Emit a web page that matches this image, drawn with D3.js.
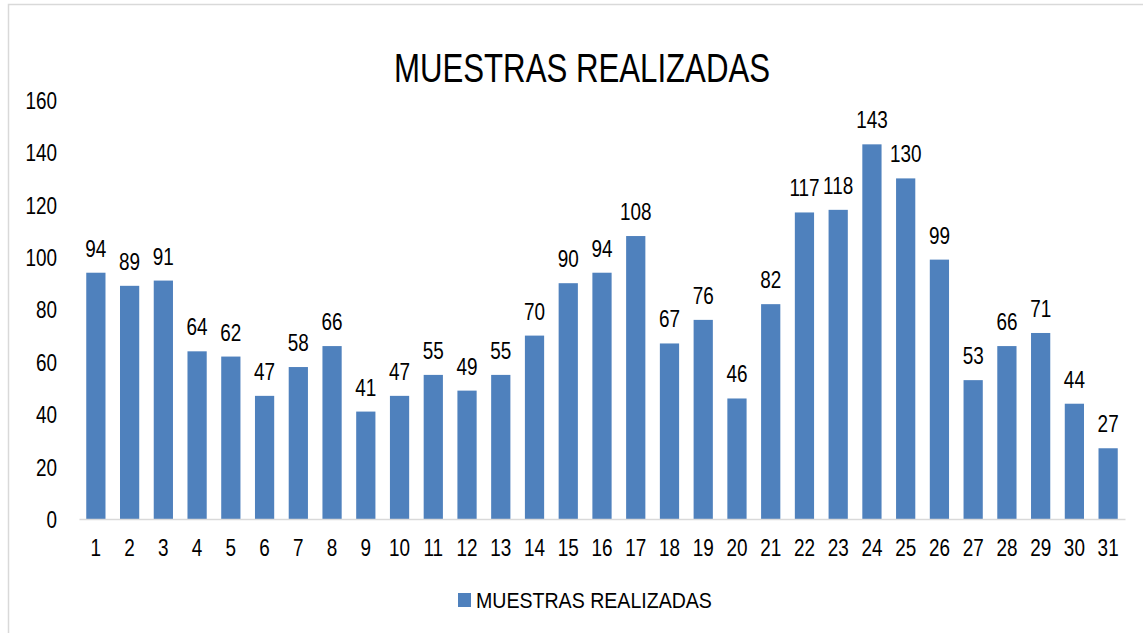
<!DOCTYPE html>
<html>
<head>
<meta charset="utf-8">
<script src="https://cdn.jsdelivr.net/npm/d3@7"></script>
<style>
  html, body { margin: 0; padding: 0; background: #fff; }
  svg { display: block; }
  text { font-family: "Liberation Sans Narrow", "Arial Narrow", "Liberation Sans", Arial, sans-serif; fill: #000; }
</style>
</head>
<body>
<svg id="chart" width="1143" height="633"></svg>
<script>
const title = "MUESTRAS REALIZADAS";
const seriesName = "MUESTRAS REALIZADAS";
const categories = ["1","2","3","4","5","6","7","8","9","10","11","12","13","14","15","16","17","18","19","20","21","22","23","24","25","26","27","28","29","30","31"];
const values = [94,89,91,64,62,47,58,66,41,47,55,49,55,70,90,94,108,67,76,46,82,117,118,143,130,99,53,66,71,44,27];
const yTicks = [0,20,40,60,80,100,120,140,160];

const svg = d3.select("#chart");
const color = "#4f81bd";
const numSize = "23.5px";
const numScale = 0.805;

// chart border
svg.append("rect").attr("x", 8.5).attr("y", 4.5).attr("width", 1150).attr("height", 640)
  .attr("fill", "none").attr("stroke", "#d9d9d9").attr("stroke-width", 1.5);

const x = d3.scaleBand().domain(categories).range([79, 1125]).paddingInner(0.43).paddingOuter(0.215);
const y = d3.scaleLinear().domain([0, 160]).range([519, 99.8]);

// title
svg.append("text").attr("transform", "translate(582,82) scale(0.78,1)").attr("text-anchor", "middle")
  .style("font-size", "40px").text(title);

// y axis labels
const yAxis = d3.axisLeft(y).tickValues(yTicks).tickSize(0).tickPadding(0);
const yg = svg.append("g").attr("transform", "translate(57,0)").call(yAxis);
yg.select(".domain").remove();
yg.selectAll("text").style("font-size", numSize).attr("font-family", null).attr("dy", "0.36em")
  .attr("transform", `scale(${numScale},1)`);

// bars
svg.append("g").selectAll("rect").data(values).join("rect")
  .attr("x", (d, i) => x(categories[i]))
  .attr("y", d => y(d))
  .attr("width", x.bandwidth())
  .attr("height", d => y(0) - y(d))
  .attr("fill", color);

// x axis
const xAxis = d3.axisBottom(x).tickSize(0).tickPadding(0);
const xg = svg.append("g").attr("transform", "translate(0,519)").call(xAxis);
xg.select(".domain").attr("stroke", "#d9d9d9").attr("stroke-width", 1.5);
xg.selectAll("text").style("font-size", numSize).attr("font-family", null).attr("dy", null).attr("y", 37)
  .attr("transform", `scale(${numScale},1)`);

// data labels
svg.append("g").selectAll("text").data(values).join("text")
  .attr("transform", (d, i) => `translate(${x(categories[i]) + x.bandwidth() / 2},${y(d) - 16}) scale(${numScale},1)`)
  .attr("text-anchor", "middle")
  .style("font-size", numSize)
  .text(d => d);

// legend
const lg = svg.append("g");
lg.append("rect").attr("x", 458).attr("y", 593).attr("width", 13).attr("height", 14).attr("fill", color);
lg.append("text").attr("transform", "translate(476,608) scale(0.87,1)").style("font-size", "22.5px").text(seriesName);
</script>
</body>
</html>
